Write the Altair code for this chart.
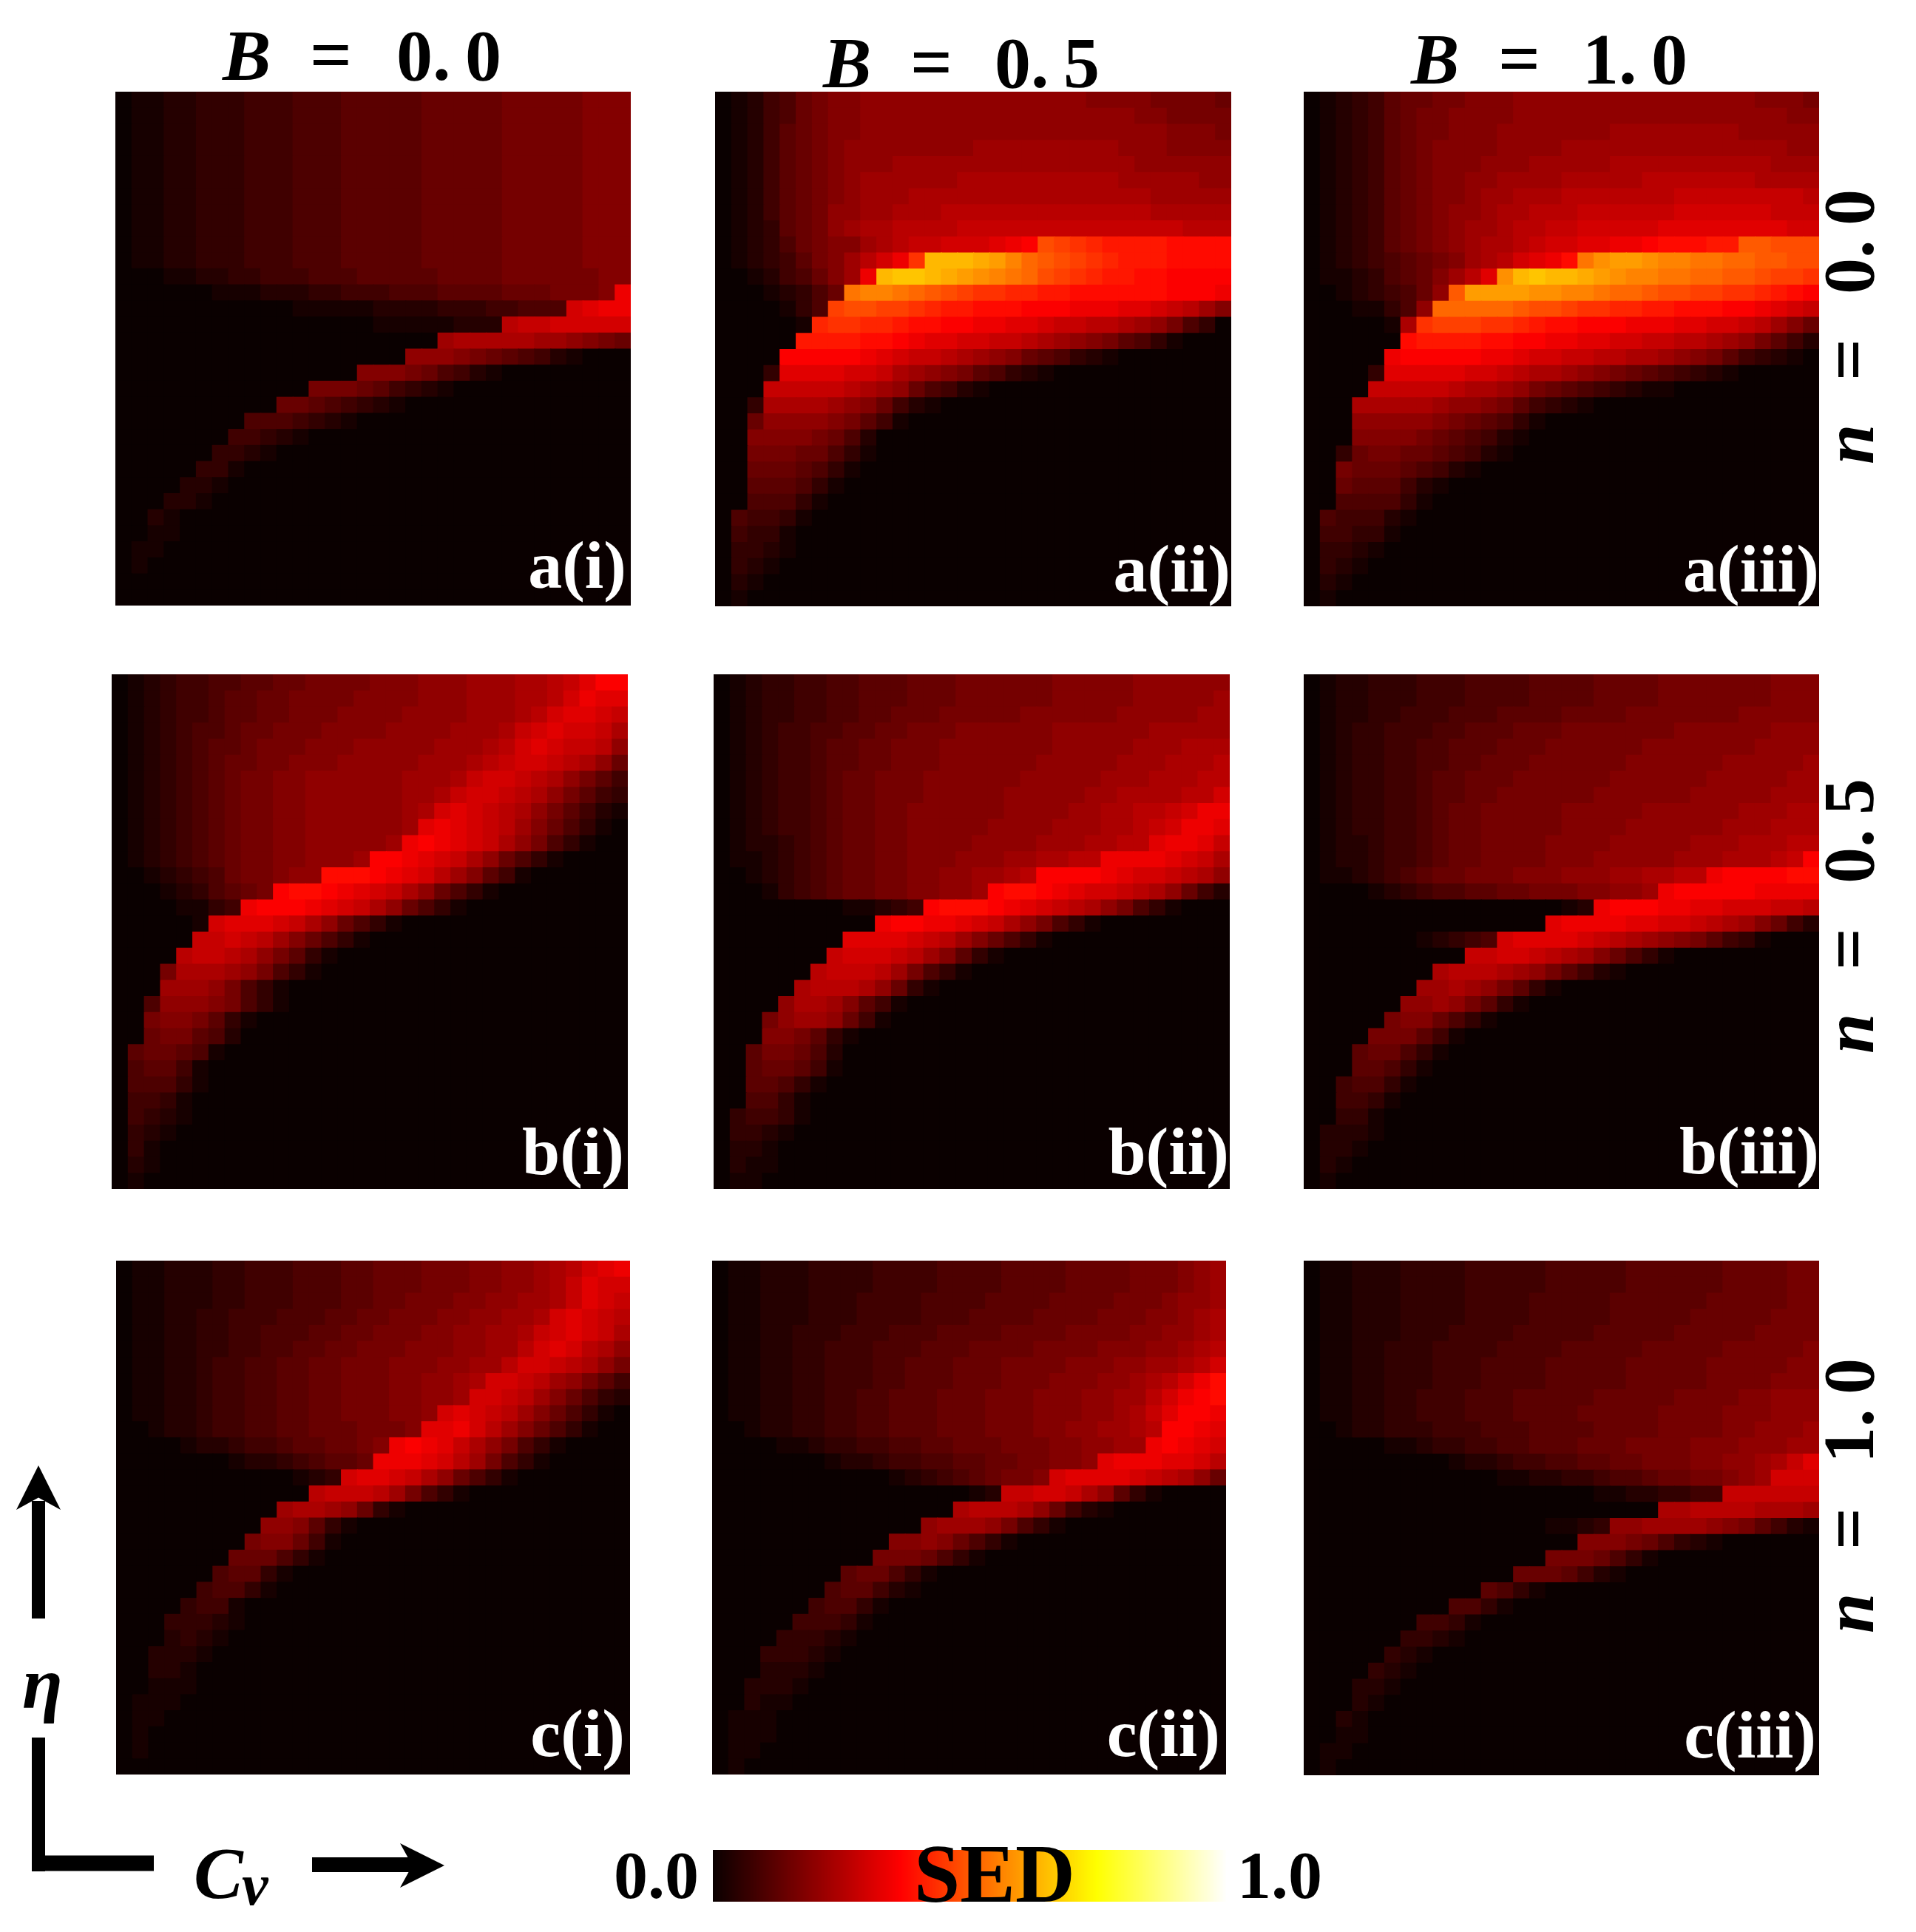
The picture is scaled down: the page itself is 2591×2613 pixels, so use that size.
import altair as alt
import pandas as pd

# Cell levels, one string per row (top to bottom), one base-36 digit per
# column (left to right). A short row continues with zeros. Level * 0.02 = SED.
A1 = ["01122333444555666667777788888999"]*11 + [
"00011223344455566666777788888899","0000001112223344455566667778889h","0000000000011111222233344555fghh",
"000000000000000011111222deefffff","00000000000000000000bcccccbba987","000000000000000000aaa98765421",
"000000000000000999875421","000000000000888764321","000000000077654321","000000005554321",
"000000044321","0000003321","00000331","0000221","000221","0021","0011","011","01","0","0"]
A2 = ["012457899aaaaaaaaaaaaaa999988887","012457899aaaaaaaaaaaaaaaaa998888","012467899aaaaaaaaaaaaaaaaaaa9998",
"01246789aaaaaaaabbbbbbbbbaaa9999","01246789aaabbbbbbbbbbbbbbbaaaaaa","01246789abbbbbbccccccccccbbbbbaa","01246789abbbcccccccccccccccbbbbb",
"0124678aabbcccdddddddddddddccccc","0123678abccddddeeeeeeeeeeeeeeddd","012357899bcdeefffghionmlkkkkjjjj","01234689bdfhmwwwvusqponmlkkkjjjj",
"00124579bhwxxwvutsrqonmlkkjjiiii","00012357rssrqponmmllkkjjjjjjiiih","0000135noonnmlkkjjjiiihhhggfedb9","000001lmmllkjjiihhggfeeddcba8530",
"00000kkkkjjihggffeedcba986531","0000iiiiihgfeedcba9765321","0003ggggffecba9865321","000eeeeedcba75421",
"003ccccba97421","007aaaa98641","00999987520","0088877531","007776531","00666531","0055531","054431","04331","03321","0321","021","01"]
A3 = ["0123467788999aaaaaaaaaaaaaaa9998","0123467889999aaaaaaaaaaaaaaaaa99","012346788999aaaaaaabbbbbbbbaaaaa","012346789999aaaabbbbbbbbbbbbbbaa",
"01234678999aaabbbbbccccccccccbbb","0123467899aabbbbcccccdddddddcccc","0123467899abbcccdddddddeeeeeeeed","012346789aabccdddeeeeeeffffffeee",
"012346789abbcddeefffffggggggggff","012346789abccdeffgghhijjjkkppooo","0123456789bcdfghjrtuutssrrqqppoo","011235679bdgtwxwwvutssrrqqpponnm",
"00123457apuuuuttssrqqpoonnmmlkji","0001135aqqqqqpoonmmllkkjjjiihgfe","000001cmnnnmmlkjjiiihhhggffedb97","000000jkkkkjjiihhggffeeddcba8642",
"00000hiiiiihhgffeeddccba98643210","00003gggggffedccba987654321","0000eeeeedccba876543211","000cccccbaa9864321",
"000aaaaa9876531","00099998765421","0037887765421","00877765421","007666421","00555531","0544421","044331","03321","0321","021","01"]
B1 = ["0123445566778888999aaabbbccdegii","0123445667788889999aaabbbccdfhgg","012344566778889999aaaabbbcdfggfe","01234556778889999aaaabbbcefgffec",
"012345667888999aaaaabbbcdfgfeeda","01234567788999aaaaabbbcdeffedca7","012345678899aaaaaabbbceffedca864","012345678899aaaaaabbceffedca8643",
"012345678899aaaaaabcfgfedca86421","012345678899aaaaaabghgfedb975310","012345678899aaaaabhihgfeca853100","012345678899aaabiihgfeca7531",
"00123457889aajjjihgfdb9641","0001235678ijjihgfeca7531","00001134hiiihgfeca7531","000001fgggfeca7531",
"00000eefedb97531","0000deedca8631","0008cccba8531","000bbba8531","005aaa98531",
"008998631","00788652","0677651","056641","055531","04431","04321","0321","031","021","01"]
B2 = ["01233445566677788888899999aaaaaa","01233445566677788888899999aaaaab","0123344556677788888999999aaaaabb","012344556677888999999aaaaaabbbbb",
"012344566778889999999aaaaabbbccc","01234456677888999999aaaaabbbcccd","0123445677888999999aaaaabbbcccdd","012344567788899999aaaaabbccccddf",
"012344567788999999aaaabbccddefhh","01234456778899999aaaabbbccdefhhg","0122345677889999aaaabbbccddghhge","011234567788999aaabbccddhhhhgfec",
"00123456778899aabbcdiiiihgffedca","00013456778899aabijjihgffedca742","0000000011234ijjjihgfedca8531","0000000000hiihhgfeca8531",
"00000000ggggfedb97531","0000000efffedb9631","000000deeedb8531","00000cdddca731",
"0000accb9641","0008abba741","000998631","00688752","00677641","0066531","005531","034431","03321","0221","0211","011"]
B3 = ["01223334445555666677778888888999","01223334445555666677778888888999","01223344455566667777888888899999","01233444556667778888888999999aaa",
"0123344556667778888889999999aaaa","01233445566777888888999999aaaaab","0123344566777888888999999aaaaabb","012334456677888888999999aaaaabbb",
"012334456778888899999aaaaaabbbcc","01233445677888889999aaaaaabbbccc","0122344567788889999aaaaabbbcccdd","012234456778888999aaaaabbbcccdei",
"0112345677888999aaabbccddhiiiijj","0000123455667788899aabhiiiiihhhh","000000000000000012hiiihhggfffeed","000000000000000ghhhhggffedcb9742",
"000000012345fggggfedcba986431","0000000000eeffedcb97531","00000000cdddcba86421","0000000bbcba8631",
"000000aaba8631","000008997531","0000888641","000677531","00066531","0045531","004431","00331","02221","0221","021","01"]
C1 = ["011222334445556677788899aabcdfgh","011222334445556677788899aabcegff","01122233444555667788899aabbcegfe","0112233444555667788899aabbcfgfed",
"011223344555667788899aabbcefgfec","011223344556677888999aabbdfgfdca","01122344556677888999aabbdffedca8","0112234455667788899aabcffedba864",
"0112234455667788899aabffedb97532","0112234455667788899afgfedb975310","0012234455667778889gghfdb97531","00001223445667789hihgeca8531",
"0000000122345667hhhgfdb8531","00000000000123fggfeca7531","000000000000deeedb8531","0000000000bccba731",
"000000000aa9631","00000000899741","0000000777531","00000056631","0000045531",
"00003441","00033321","0002321","002221","00221","00111","0111","011","01","01","0"]
C2 = ["011222333344445555666677778889ab","011222333344445555666677778889ab","01122233344445555666677778889aab","01122233344445556666777788899abc",
"0112233344455566667777888899aabc","011223344455566677778888999aabcd","0112233444556667778888999aabbcdf","011223344455666777888999aabcdfhj",
"01122334455666777888999aabbdfhij","01122334455666777888999aabcegiih","0012233445566677788899aabbcdiihg","00001123344556677788899aabbhihgf",
"00000001223445566778899aghhhggfd","000000000001234567889fggggfedca7","000000000000000012eeffeca631","000000000000000cdddca7421",
"0000000000000abbba8531","0000000000099a97531","00000000008887531","00000000677531","0000000566421",
"00000045531","0000044431","000033321","00033321","0002221","002221","00211","0111","0111","011","01"]
C3 = ["01122233334444455555666666777788","01122233334444455555666666777788","01122233334444555556666667777788","01122233334444555556666677777888",
"01122233344445555566666777778888","01122333444455556666677777888889","01122333444555566666777778888899","01122333444555566666777778888999",
"01122334445556666677777888899aaa","01122334445556666777778888999aaa","0012233344455566667777888899aaab","000001123344556667778888999aaabb",
"00000000012234455667788899aabceg","000000000000112233455677889abfff","00000000000000000011223344eeeeee","0000000000000000000000ccddddcccb",
"0000000000000001123aabbbba986421","00000000000000000999875321","0000000000000008887531","00000000000007776421",
"000000000006531","0000000005531","00000004431","0000003321","00000321","0000321","000221","00021","0021","0011","011","01"]

GRIDS = [A1, A2, A3, B1, B2, B3, C1, C2, C3]
TAGS = ["a(i)", "a(ii)", "a(iii)", "b(i)", "b(ii)", "b(iii)", "c(i)", "c(ii)", "c(iii)"]
COLUMN_VALUES = ["0.0", "0.5", "1.0"]
ROW_VALUES = ["0.0", "0.5", "1.0"]
CBAR_ENDS = ["0.0", "1.0"]

CELLS = 32
M = 8  # page margin
# panel frames on the page: left, right, top, bottom
FRAMES = [(156, 853, 124, 819), (967, 1665, 124, 820), (1763, 2460, 124, 820),
          (151, 849, 912, 1608), (965, 1663, 912, 1608), (1763, 2460, 912, 1608),
          (157, 852, 1705, 2400), (963, 1658, 1705, 2400), (1763, 2460, 1705, 2401)]
TAG_ANCHORS = [(847, 795), (1664, 800), (2460, 800), (844, 1588), (1662, 1588), (2460, 1587),
               (845, 2375), (1650, 2375), (2456, 2377)]

color = alt.Color("sed:Q", legend=None,
                  scale=alt.Scale(domain=[0, 0.365, 0.746, 1], interpolate="rgb",
                                  range=["#0a0000", "#ff0000", "#ffff00", "#ffffff"]))


def panel(grid, frame):
    rows = []
    for r, text in enumerate(grid):
        text = text.ljust(CELLS, "0")[:CELLS]
        for c, ch in enumerate(text):
            rows.append({"c": c, "c2": c + 1.06, "r": r, "r2": r + 1.06, "sed": int(ch, 36) * 0.02})
    left, right, top, bottom = frame
    return alt.Chart(pd.DataFrame(rows)).mark_rect(strokeWidth=0).encode(
        x=alt.X("c:Q", axis=None, scale=alt.Scale(domain=[0, CELLS], range=[left - M, right - M], clamp=True, nice=False, zero=False)),
        x2="c2:Q",
        y=alt.Y("r:Q", axis=None, scale=alt.Scale(domain=[0, CELLS], range=[top - M, bottom - M], clamp=True, nice=False, zero=False)),
        y2="r2:Q",
        color=color,
    )


# the colour bar: the colour scale itself, sampled from 0 to 1
STEPS = 347
ramp = pd.DataFrame({"sed": [i / STEPS for i in range(STEPS)]})
ramp["sed2"] = ramp["sed"] + 1.5 / STEPS
colorbar = alt.Chart(ramp).mark_rect(strokeWidth=0).encode(
    x=alt.X("sed:Q", axis=None, scale=alt.Scale(domain=[0, 1], range=[964 - M, 1658 - M], clamp=True, nice=False, zero=False)),
    x2="sed2:Q",
    y=alt.value(2502 - M), y2=alt.value(2572 - M),
    color=color,
)

one = pd.DataFrame({"k": [0]})
SERIF = "Liberation Serif"


def label(text, x, y, size=98, col="black", style="normal", angle=0, align="left", font=SERIF):
    return alt.Chart(one).mark_text(font=font, fontSize=size, fontWeight="bold", fontStyle=style, color=col,
                                    align=align, baseline="alphabetic", angle=angle).encode(
        x=alt.value(x - M), y=alt.value(y - M), text=alt.value(text))


def bar(x, x2, y, y2, width):
    return alt.Chart(one).mark_rule(color="black", strokeWidth=width, strokeCap="butt").encode(
        x=alt.value(x - M), x2=alt.value(x2 - M), y=alt.value(y - M), y2=alt.value(y2 - M))


def head(path, x, y, size):
    return alt.Chart(one).mark_point(shape=path, filled=True, color="black", opacity=1, strokeWidth=0).encode(
        x=alt.value(x - M), y=alt.value(y - M), size=alt.value(size))


layers = [panel(g, f) for g, f in zip(GRIDS, FRAMES)] + [colorbar]
for tag, (x, y) in zip(TAGS, TAG_ANCHORS):
    layers.append(label(tag, x, y, size=92, col="white", align="right"))

for val, bx, ex, vx, by in zip(COLUMN_VALUES, [301, 1113, 1908], [419, 1231, 2026], [536, 1345, 2140], [108, 118, 113]):
    layers += [label("B", bx, by, style="italic"), label("=", ex, by, size=100), label(val.replace(".", ".\u2009"), vx, by)]

for val, dy in zip(ROW_VALUES, [0, 797, 1581]):
    layers += [label("n", 2533, 628 + dy, style="italic", angle=270),
               label("=", 2533, 515 + dy, size=100, angle=270),
               label(val.replace(".", ".\u2009"), 2533, 398 + dy, angle=270)]

layers += [
    bar(52, 52, 2030, 2189, 18), head("M0,-1L1,1L0,0.45L-1,1Z", 52, 2012, 3600),
    label("\u03b7", 30, 2310, size=100, style="italic"),
    bar(52, 52, 2350, 2531, 18), bar(43, 208, 2520, 2520, 21),
    label("C", 262, 2567, size=100, style="italic"), label("v", 327, 2576, size=80, style="italic"),
    bar(422, 560, 2522, 2522, 20), head("M1,0L-1,1L-0.45,0L-1,-1Z", 571, 2523, 3600),
    label(CBAR_ENDS[0], 830, 2567, size=92), label(CBAR_ENDS[1], 1673, 2567, size=92),
    label("SED", 1236, 2572, size=112),
]

chart = alt.layer(*layers).resolve_scale(x="independent", y="independent", color="shared").properties(
    width=2575, height=2597, padding=0, autosize=alt.AutoSizeParams(type="none"),
    background="white").configure_view(stroke=None)

chart.save("out.html", embed_options={"renderer": "svg", "actions": False})
